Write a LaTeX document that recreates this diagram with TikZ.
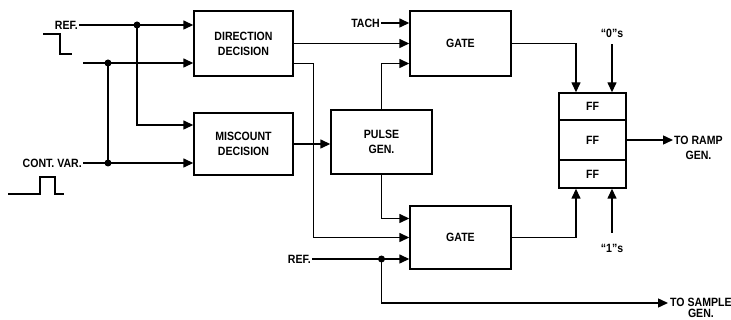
\documentclass[tikz,border=0pt]{standalone}
\usepackage{fontspec}
\setmainfont{Liberation Sans}[FakeStretch=0.88]
\usetikzlibrary{arrows.meta}

\begin{document}
\begin{tikzpicture}[x=1pt, y=-1pt,
  font=\fontsize{12}{15}\selectfont\bfseries,
  box/.style={draw, line width=1.4pt, align=center, inner sep=0pt},
  ffbox/.style={draw, line width=1.4pt, minimum width=67pt, inner sep=0pt},
  lbl/.style={inner sep=1pt, align=center},
  wire/.style={line width=1.4pt},
  arr/.style={-{Triangle[length=10pt,width=9pt]}, line width=1.4pt}
]
  \useasboundingbox (0,0) rectangle (731,320);

  \node[box, minimum width=99pt, minimum height=65pt] (dir) at (243.5,43.5) {DIRECTION\\DECISION};
  \node[box, minimum width=99pt, minimum height=62pt] (mis) at (243.5,144) {MISCOUNT\\DECISION};
  \node[box, minimum width=101pt, minimum height=64pt] (pulse) at (381.5,142) {PULSE\\GEN.};
  \node[box, minimum width=101pt, minimum height=65pt] (gate1) at (460.5,43.5) {GATE};
  \node[box, minimum width=101pt, minimum height=63pt] (gate2) at (460.5,237.5) {GATE};
  \node[ffbox, minimum height=27pt] (ff1) at (592.5,106.5) {FF};
  \node[ffbox, minimum height=40pt] (ff2) at (592.5,140) {FF};
  \node[ffbox, minimum height=28pt] (ff3) at (592.5,174) {FF};

  \node[lbl, anchor=east] (ref) at (79,25) {REF.};
  \node[lbl, anchor=east] (cv) at (83,163) {CONT. VAR.};
  \node[lbl, anchor=east] (tach) at (381,23) {TACH};
  \node[lbl, anchor=east] (ref2) at (312,259) {REF.};
  \node[lbl] (zero) at (612,33) {``0''s};
  \node[lbl] (one) at (612,248) {``1''s};
  \node[lbl, anchor=north west] (ramp) at (673,135) {TO RAMP\\GEN.};
  \node[lbl, anchor=north west, font=\fontsize{12}{11}\selectfont\bfseries] (sample) at (669,297) {TO SAMPLE\\GEN.};

  \coordinate (in2) at (83,63);
  \coordinate (j1) at (137,25);
  \coordinate (j2) at (108,63);
  \coordinate (j3) at (108,163);
  \coordinate (j4) at (ref2 -| pulse.south);
  \coordinate (sg) at (668,303);

  % waveforms
  \draw[wire] (43,34) -- (60,34) -- (60,54) -- (72,54);
  \draw[wire] (8,194) -- (40,194) -- (40,177) -- (55,177) -- (55,194) -- (64,194);

  \draw[arr] (ref) -- (ref -| dir.west);
  \draw[arr] (in2) -- (in2 -| dir.west);
  \draw[arr] (j1) |- ([yshift=19pt]mis.west);
  \draw[arr] (cv) -- (cv -| mis.west);
  \draw[wire] (j2) -- (j3);

  \draw[arr] (dir.east) -- (dir.east -| gate1.west);
  \draw[arr] ([yshift=-20pt]dir.east) -- ++(20,0) |- (gate2.west);
  \draw[arr] (mis.east) -- (mis.east -| pulse.west);
  \draw[arr] (tach) -- (tach -| gate1.west);
  \draw[arr] (pulse.north) |- ([yshift=-20pt]gate1.west);
  \draw[arr] (pulse.south) |- ([yshift=19pt]gate2.west);
  \draw[arr] (ref2) -- (ref2 -| gate2.west);
  \draw[arr] (j4) |- (sg);

  \draw[arr] (gate1.east) -| ([xshift=-16.5pt]ff1.north);
  \draw[arr] (gate2.east) -| ([xshift=-16.5pt]ff3.south);
  \draw[arr, shorten <=6pt] (zero.south) -- (zero.south |- ff1.north);
  \draw[arr, shorten <=10pt] (one.north) -- (one.north |- ff3.south);
  \draw[arr] (ff2.east) -- (ff2.east -| ramp.west);

  \foreach \j in {j1,j2,j3,j4}
    \fill (\j) circle (3.5pt);
\end{tikzpicture}
\end{document}
